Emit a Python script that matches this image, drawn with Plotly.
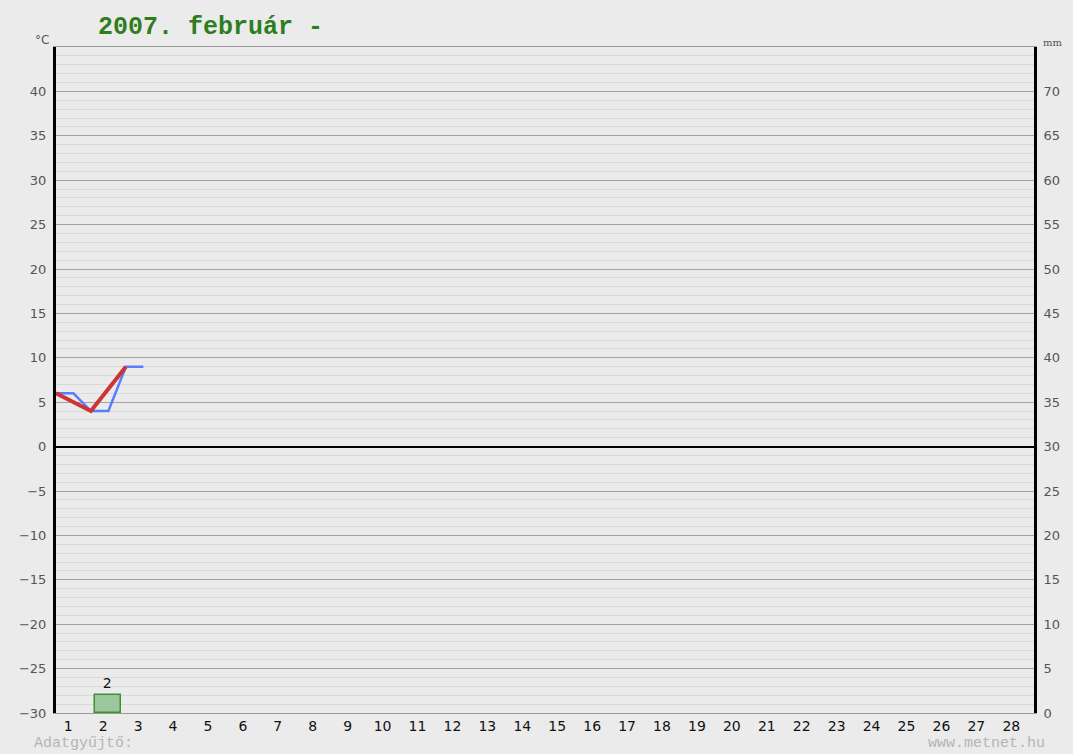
import plotly.graph_objects as go

# ---- data ----
day_labels = [str(d) for d in range(1, 29)]
red_x = [0, 1, 2]                 # day starts (day 1..3)
red_temp = [6, 4, 9]
blue_x = [0, 0.5, 1, 1.5, 2, 2.5]
blue_temp = [6, 6, 4, 4, 9, 9]
precip_x = [1.5]                  # day 2
precip_mm = [2]

left_ticks = list(range(-30, 41, 5))
right_ticks = list(range(0, 71, 5))

W, H = 1073, 754
L, R, T, B = 56, 39, 47, 41
pw, ph = W - L - R, H - T - B

def px(x):
    return (x - L) / pw

def py(y):
    return (H - B - y) / ph

fig = go.Figure()

fig.add_trace(go.Bar(
    x=precip_x, y=precip_mm, width=0.74, yaxis="y2",
    marker=dict(color="#9cc79c", line=dict(color="#3f8f30", width=1.5)),
    text=[str(v) for v in precip_mm], textposition="outside",
    textfont=dict(family="DejaVu Sans", size=14, color="#111"),
    cliponaxis=False, showlegend=False,
))
fig.add_trace(go.Scatter(
    x=blue_x, y=blue_temp, mode="lines",
    line=dict(color="#5a7cff", width=2.5), showlegend=False,
))
fig.add_trace(go.Scatter(
    x=red_x, y=red_temp, mode="lines",
    line=dict(color="#cc3535", width=4), showlegend=False,
))

fig.update_layout(
    width=W, height=H,
    margin=dict(l=L, r=R, t=T, b=B),
    paper_bgcolor="#ebebeb", plot_bgcolor="#ebebeb",
    bargap=0,
    xaxis=dict(
        range=[0, 28], tickmode="array",
        tickvals=[i + 0.35 for i in range(28)], ticktext=day_labels,
        showgrid=False, zeroline=False,
        showline=True, linecolor="#9a9a9a", linewidth=1, mirror=True,
        ticks="",
        tickfont=dict(family="DejaVu Sans", size=14, color="#111"),
        ticklabelstandoff=0,
        fixedrange=True,
    ),
    yaxis=dict(
        range=[-30, 45], tickmode="array",
        tickvals=left_ticks, ticktext=[str(v).replace("-", "−") for v in left_ticks],
        showgrid=True, gridcolor="#a2a2a2", gridwidth=1,
        minor=dict(dtick=1, tick0=0, showgrid=True, gridcolor="#d9d9d9", gridwidth=1),
        zeroline=True, zerolinecolor="#000", zerolinewidth=2,
        showline=True, linecolor="#000", linewidth=3,
        ticks="", ticklabelstandoff=4,
        tickfont=dict(family="DejaVu Sans", size=13, color="#555"),
    ),
    yaxis2=dict(
        range=[0, 75], overlaying="y", side="right", tickmode="array",
        tickvals=right_ticks, ticktext=[str(v) for v in right_ticks],
        showgrid=False, zeroline=False,
        showline=True, linecolor="#000", linewidth=3,
        ticks="", ticklabelstandoff=4,
        tickfont=dict(family="DejaVu Sans", size=13, color="#555"),
    ),
)

fig.add_annotation(
    text="<b>2007. február -</b>", xref="paper", yref="paper",
    x=px(96), y=py(27), xanchor="left", yanchor="middle", showarrow=False,
    font=dict(family="Courier New, Liberation Mono, monospace", size=25, color="#2e7d1f"),
)
fig.add_annotation(
    text="°C", xref="paper", yref="paper", x=px(42), y=py(40),
    xanchor="center", yanchor="middle", showarrow=False,
    font=dict(family="DejaVu Sans", size=12, color="#555"),
)
fig.add_annotation(
    text="mm", xref="paper", yref="paper", x=px(1052), y=py(42),
    xanchor="center", yanchor="middle", showarrow=False,
    font=dict(family="DejaVu Serif", size=10, color="#555"),
)
fig.add_annotation(
    text="Adatgyűjtő:", xref="paper", yref="paper", x=px(32), y=py(744),
    xanchor="left", yanchor="middle", showarrow=False,
    font=dict(family="Liberation Mono, monospace", size=15, color="#b5b5b5"),
)
fig.add_annotation(
    text="www.metnet.hu", xref="paper", yref="paper", x=px(1047), y=py(744),
    xanchor="right", yanchor="middle", showarrow=False,
    font=dict(family="Liberation Mono, monospace", size=15, color="#b5b5b5"),
)

fig.write_html(
    "out.html",
    config={"displayModeBar": False},
    post_script="document.body.style.margin='0';document.body.style.overflow='hidden';",
)
